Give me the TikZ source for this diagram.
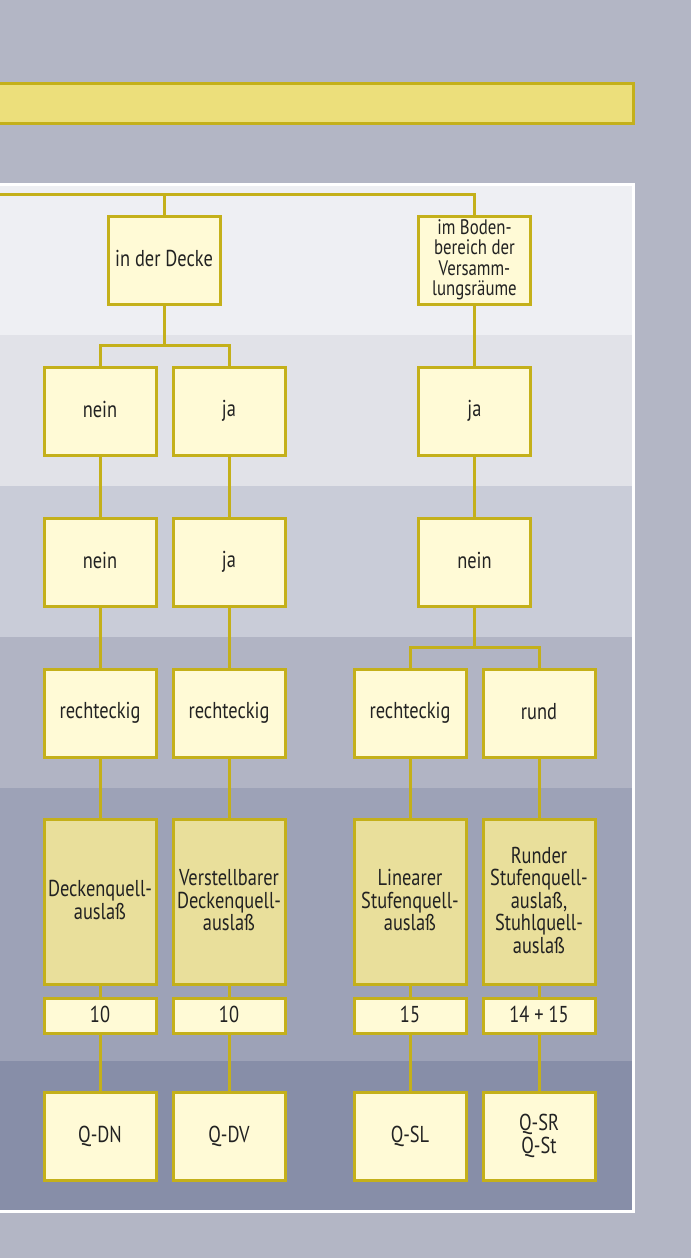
\documentclass[tikz,border=0pt]{standalone}
\usepackage{fontspec}
\setmainfont{PT Sans}[FakeStretch=0.8]
\usetikzlibrary{positioning}
\definecolor{PageGray}{HTML}{B3B6C5}
\definecolor{BarFill}{HTML}{ECDF7B}
\definecolor{LineGold}{HTML}{C4B01A}
\definecolor{BoxLight}{HTML}{FFFAD6}
\definecolor{BoxDark}{HTML}{E9DF9B}
\definecolor{TextDark}{HTML}{222222}
\definecolor{BandA}{HTML}{EEEFF3}
\definecolor{BandB}{HTML}{E1E2E8}
\definecolor{BandC}{HTML}{C9CCD8}
\definecolor{BandD}{HTML}{B1B4C4}
\definecolor{BandE}{HTML}{9DA2B7}
\definecolor{BandF}{HTML}{878EA8}
\newcommand\boxstrut{\rule[-3pt]{0pt}{16pt}}
\tikzset{
  choice/.style={draw=LineGold, line width=3pt, fill=BoxLight, minimum width=112pt,
                 minimum height=88pt, inner sep=1pt, align=center, text=TextDark,
                 font=\fontsize{23}{22.5}\selectfont,
                 execute at begin node=\boxstrut, execute at end node=\boxstrut},
  outlet/.style={choice, fill=BoxDark, minimum height=165pt},
  numbox/.style={choice, minimum height=35pt},
  link/.style={draw=LineGold, line width=3pt}
}
\begin{document}
\begin{tikzpicture}[x=1pt, y=-1pt]
    \useasboundingbox[fill=PageGray] (0,0) rectangle (691,1258);

    % title bar and panel
    \draw[draw=LineGold, fill=BarFill, line width=3pt] (-5,83.5) rectangle (633.5,123.5);
    \fill[white] (-5,183) rectangle (635,1213);
    \foreach \top/\bot/\col in {186/335/BandA, 335/486/BandB, 486/637/BandC,
                                637/788/BandD, 788/1061/BandE, 1061/1210/BandF}
        \fill[\col] (-5,\top) rectangle (632,\bot);

    % Position
    \node[choice] (decke) at (164,260) {in der Decke};
    \node[choice, font=\fontsize{21}{20.5}\selectfont]
          (boden) at (474.5,260) {im Boden-\\bereich der\\Versamm-\\lungsräume};

    % second and third row
    \node[choice] (nein1) at (100,411) {nein};
    \node[choice, right=14pt of nein1] (ja1) {ja};
    \node[choice] (ja2) at (474.5,411) {ja};
    \node[choice, below=60pt of nein1] (nein3) {nein};
    \node[choice, below=60pt of ja1] (ja3) {ja};
    \node[choice, below=60pt of ja2] (nein4) {nein};

    % shape
    \node[choice, below=60pt of nein3] (eck1) {rechteckig};
    \node[choice, below=60pt of ja3] (eck2) {rechteckig};
    \node[choice, below=60pt of nein4, xshift=-64.5pt] (eck3) {rechteckig};
    \node[choice, right=14pt of eck3] (rund) {rund};

    % outlets
    \node[outlet, below=59pt of eck1] (qdn) {Deckenquell-\\auslaß};
    \node[outlet, below=59pt of eck2] (qdv) {Verstellbarer\\Deckenquell-\\auslaß};
    \node[outlet, below=59pt of eck3] (qsl) {Linearer\\Stufenquell-\\auslaß};
    \node[outlet, below=59pt of rund] (qsr) {Runder\\Stufenquell-\\auslaß,\\Stuhlquell-\\auslaß};

    \node[numbox, below=11pt of qdn] (num1) {10};
    \node[numbox, below=11pt of qdv] (num2) {10};
    \node[numbox, below=11pt of qsl] (num3) {15};
    \node[numbox, below=11pt of qsr] (num4) {14 + 15};

    \node[choice, below=56pt of num1] (code1) {Q-DN};
    \node[choice, below=56pt of num2] (code2) {Q-DV};
    \node[choice, below=56pt of num3] (code3) {Q-SL};
    \node[choice, below=56pt of num4] (code4) {Q-SR\\Q-St};

    % connectors
    \coordinate (topleft) at (-5,194);
    \draw[link] (topleft) -| (boden.north);
    \draw[link] (decke.north) -- (decke.north |- topleft);
    \draw[link] (decke.south) -- ++(0,40) coordinate (split1);
    \draw[link] (nein1.north) |- (split1) -| (ja1.north);
    \draw[link] (boden) -- (ja2);
    \draw[link] (ja2) -- (nein4);
    \draw[link] (nein4.south) -- ++(0,40) coordinate (split2);
    \draw[link] (eck3.north) |- (split2) -| (rund.north);
    \foreach \a/\b/\c/\d/\e/\f in {nein1/nein3/eck1/qdn/num1/code1,
                                   ja1/ja3/eck2/qdv/num2/code2}
        \draw[link] (\a) -- (\b) -- (\c) -- (\d) -- (\e) -- (\f);
    \foreach \c/\d/\e/\f in {eck3/qsl/num3/code3, rund/qsr/num4/code4}
        \draw[link] (\c) -- (\d) -- (\e) -- (\f);
\end{tikzpicture}
\end{document}
